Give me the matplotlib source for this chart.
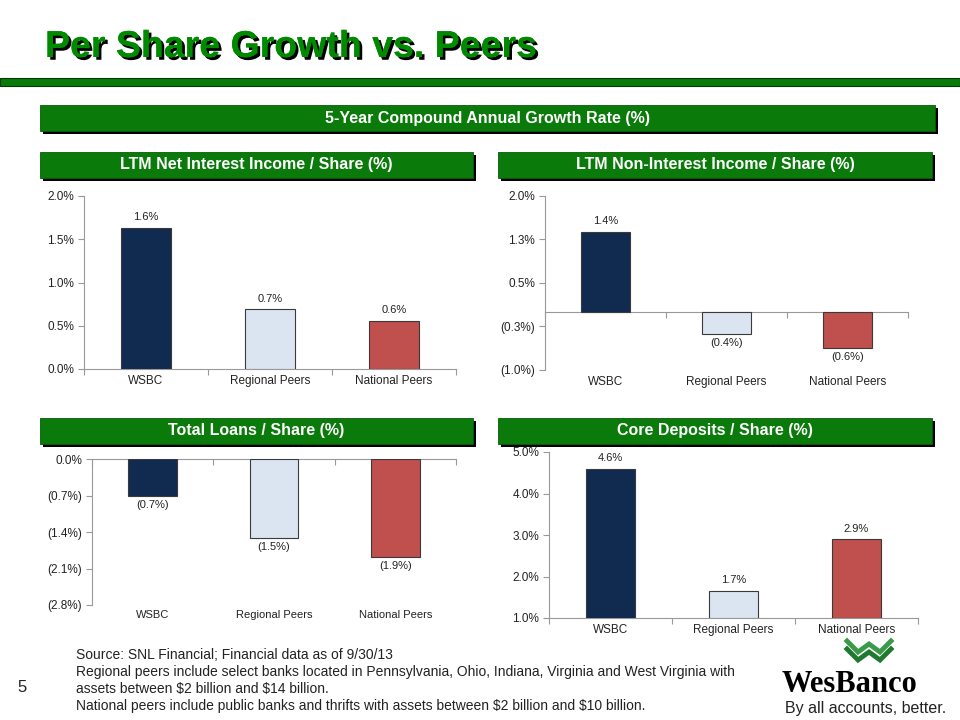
import matplotlib
matplotlib.use('Agg')
import matplotlib.pyplot as plt
import matplotlib.patheffects as pe
from matplotlib.patches import Rectangle
from matplotlib.lines import Line2D
import matplotlib.transforms as mtransforms

plt.rcParams['font.family'] = ['Liberation Sans', 'DejaVu Sans']

W, H = 960, 720

categories = ['WSBC', 'Regional Peers', 'National Peers']
bar_colors = ['#112B50', '#DBE5F1', '#C0504D']

# values (%)
nii_share = [1.63, 0.69, 0.56]
nonint_share = [1.38, -0.38, -0.62]
loans_share = [-0.71, -1.52, -1.88]
deposits_share = [4.59, 1.66, 2.90]

nii_ticks = [0.0, 0.5, 1.0, 1.5, 2.0]
nonint_ticks = [-1.0, -0.25, 0.5, 1.25, 2.0]
nonint_ticklabels = ['(1.0%)', '(0.3%)', '0.5%', '1.3%', '2.0%']
loans_ticks = [0.0, -0.7, -1.4, -2.1, -2.8]
deposits_ticks = [1.0, 2.0, 3.0, 4.0, 5.0]

footnotes = [
    'Source: SNL Financial; Financial data as of 9/30/13',
    'Regional peers include select banks located in Pennsylvania, Ohio, Indiana, Virginia and West Virginia with',
    'assets between \\$2 billion and \\$14 billion.',
    'National peers include public banks and thrifts with assets between \\$2 billion and \\$10 billion.',
]


def fmt(v):
    v = round(v, 1)
    if v < 0:
        return '(%.1f%%)' % abs(v)
    return '%.1f%%' % v


def px_axes(fig, x0, y0, x1, y1):
    # pixel box (top-left origin) -> figure axes
    return fig.add_axes([x0 / W, 1 - y1 / H, (x1 - x0) / W, (y1 - y0) / H])


def header(fig, x0, y0, x1, y1, text, size=11.5):
    fig.patches.append(Rectangle(((x0 + 3) / W, 1 - (y1 + 3) / H), (x1 - x0) / W, (y1 - y0) / H,
                                 transform=fig.transFigure, facecolor='black', edgecolor='none'))
    fig.patches.append(Rectangle((x0 / W, 1 - y1 / H), (x1 - x0) / W, (y1 - y0) / H,
                                 transform=fig.transFigure, facecolor='#0A7A0A', edgecolor='#0A5A0A', lw=0.6))
    fig.text((x0 + x1) / 2 / W, 1 - (y0 + y1) / 2 / H, text, color='white', fontsize=size,
             fontweight='bold', ha='center', va='center')


def bar_chart(ax, values, ticks, ticklabels=None, base=0.0, lab_size=8, cat_size=8.5):
    xs = range(len(values))
    heights = [v - base for v in values]
    ax.bar(xs, heights, bottom=base, width=0.4, color=bar_colors, edgecolor='#3a3a3a', lw=0.8, zorder=3)
    ax.set_xlim(-0.5, len(values) - 0.5)
    ax.set_ylim(min(ticks), max(ticks))
    ax.set_yticks(ticks)
    ax.set_yticklabels(ticklabels if ticklabels else [fmt(t) for t in ticks])
    for s in ['top', 'right']:
        ax.spines[s].set_visible(False)
    ax.spines['left'].set_color('#999999')
    ax.spines['bottom'].set_color('#999999')
    ax.spines['bottom'].set_position(('data', base))
    ax.set_xticks([-0.5, 0.5, 1.5, 2.5])
    ax.set_xticklabels([])
    ax.tick_params(axis='x', length=4, color='#999999', direction='out')
    ax.tick_params(axis='y', length=4, color='#999999', labelsize=8.5, labelcolor='#222222', pad=3)
    trans = mtransforms.blended_transform_factory(ax.transData, ax.transAxes)
    for i, c in enumerate(categories):
        ax.text(i, -0.035, c, transform=trans, ha='center', va='top', fontsize=cat_size, color='#222222')
    for i, v in enumerate(values):
        if v >= base:
            ax.annotate(fmt(v), (i, v), xytext=(0, 4), textcoords='offset points',
                        ha='center', va='bottom', fontsize=lab_size, color='#222222')
        else:
            ax.annotate(fmt(v), (i, v), xytext=(0, -3), textcoords='offset points',
                        ha='center', va='top', fontsize=lab_size, color='#222222')
    ax.patch.set_alpha(0)


fig = plt.figure(figsize=(9.6, 7.2), dpi=100)

# title
fig.text(45 / W, 1 - 47 / H, 'Per Share Growth vs. Peers', color='#008A00', fontsize=27,
         fontweight='bold', family=['Liberation Sans Narrow', 'Liberation Sans'], ha='left', va='center',
         path_effects=[pe.withSimplePatchShadow(offset=(2, -2), shadow_rgbFace='black', alpha=1), pe.Normal()])

# green rule
fig.patches.append(Rectangle((0, 1 - 86 / H), 1, 8 / H, transform=fig.transFigure,
                             facecolor='#0A7A0A', edgecolor='#063806', lw=0.8))

header(fig, 40, 105, 935, 131, '5-Year Compound Annual Growth Rate (%)')
header(fig, 40, 152, 473, 178, 'LTM Net Interest Income / Share (%)')
header(fig, 498, 152, 932, 178, 'LTM Non-Interest Income / Share (%)')
header(fig, 40, 418, 473, 444, 'Total Loans / Share (%)')
header(fig, 498, 418, 932, 444, 'Core Deposits / Share (%)')

ax1 = px_axes(fig, 84, 196, 456, 369)
bar_chart(ax1, nii_share, nii_ticks)

ax2 = px_axes(fig, 545, 196, 908, 370)
bar_chart(ax2, nonint_share, nonint_ticks, nonint_ticklabels)

ax3 = px_axes(fig, 92, 459, 456, 605)
bar_chart(ax3, loans_share, loans_ticks, lab_size=8, cat_size=8)

ax4 = px_axes(fig, 549, 452, 918, 618)
bar_chart(ax4, deposits_share, deposits_ticks, base=1.0)

# footer
fig.text(22 / W, 1 - 688 / H, '5', fontsize=12, ha='center', va='center', color='#222222')
for i, line in enumerate(footnotes):
    fig.text(76 / W, 1 - (655 + 17 * i) / H, line, fontsize=10, ha='left', va='center', color='#222222')

# logo
fig.text(849 / W, 1 - 684 / H, 'WesBanco', fontsize=22, fontweight='bold',
         family=['Liberation Serif', 'DejaVu Serif'], ha='center', va='center', color='black')
fig.text(866 / W, 1 - 708 / H, 'By all accounts, better.', fontsize=11.5,
         family=['Liberation Sans Narrow', 'Liberation Sans'], ha='center', va='center', color='#222222')
xs = [847, 858, 869, 880, 891]
for dy, col in [(0, '#3A9A4A'), (8, '#1F7A30')]:
    ys = [641 + dy, 652 + dy, 644 + dy, 652 + dy, 641 + dy]
    fig.lines.append(Line2D([x / W for x in xs], [1 - y / H for y in ys], transform=fig.transFigure,
                            color=col, lw=3.5, solid_joinstyle='miter'))

fig.savefig('out.png', dpi=100)
